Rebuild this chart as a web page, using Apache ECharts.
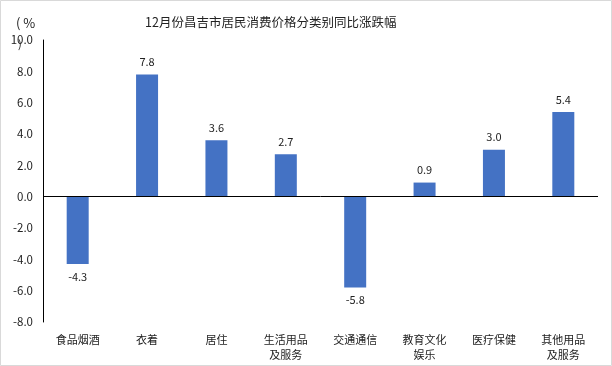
<!DOCTYPE html>
<html><head><meta charset="utf-8">
<script src="https://cdn.jsdelivr.net/npm/echarts@6/dist/echarts.min.js"></script>
<style>html,body{margin:0;padding:0;background:#fff}#c{width:612px;height:366px}</style>
</head><body><div id="c"></div>
<script>
const categories = ['食品烟酒','衣着','居住','生活用品\n及服务','交通通信','教育文化\n娱乐','医疗保健','其他用品\n及服务'];
const values = [-4.3, 7.8, 3.6, 2.7, -5.8, 0.9, 3.0, 5.4];
const titleText = '12月份昌吉市居民消费价格分类别同比涨跌幅';
const unitText = '( %';
const chart = echarts.init(document.getElementById('c'), null, {renderer:'canvas'});
const font = '"Microsoft YaHei","Noto Sans CJK SC",sans-serif';
chart.setOption({
  animation:false,
  backgroundColor:'#fff',
  title:{text:titleText,left:140,top:11,textStyle:{fontSize:12.5,fontWeight:'normal',color:'#222',fontFamily:font}},
  graphic:[
    {type:'rect',shape:{x:0.5,y:0.5,width:611,height:365},style:{fill:'none',stroke:'#d9d9d9',lineWidth:1}},
    {type:'text',left:16,top:17,style:{text:unitText,fontSize:13,fill:'#222',fontFamily:font}},
    {type:'text',left:18,top:38,style:{text:')',fontSize:11,fill:'#222',fontFamily:font}}
  ],
  grid:{left:43,right:14,top:40,bottom:44,containLabel:false},
  xAxis:{type:'category',data:categories,
    axisLine:{show:false},axisTick:{show:false},
    axisLabel:{fontSize:11,color:'#222',fontFamily:font,margin:10,lineHeight:15,interval:0}},
  yAxis:{type:'value',min:-8,max:10,interval:2,
    axisLine:{show:true,lineStyle:{color:'#000'}},axisTick:{show:false},splitLine:{show:false},
    axisLabel:{fontSize:11.5,color:'#222',fontFamily:font,margin:10,formatter:v=>v.toFixed(1)}},
  series:[{type:'bar',data:values,barWidth:22,itemStyle:{color:'#4472C4'},
    label:{show:true,position:'outside',fontSize:11,color:'#222',fontFamily:font,distance:7,formatter:p=>p.value.toFixed(1)},
    markLine:{silent:true,symbol:'none',label:{show:false},lineStyle:{color:'#000',type:'solid',width:1},data:[{yAxis:0}]}
  }]
});
</script></body></html>
